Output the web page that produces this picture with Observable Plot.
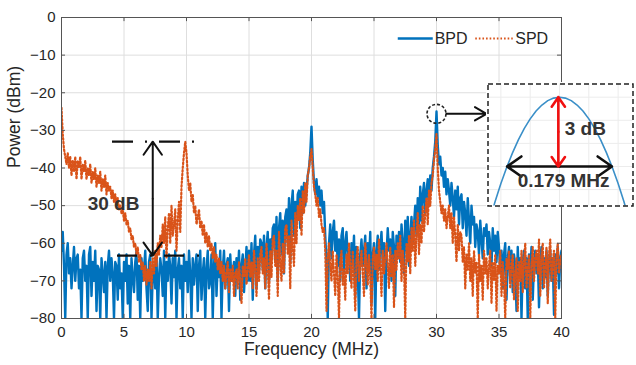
<!DOCTYPE html>
<html>
<head>
<meta charset="utf-8">
<script src="https://cdn.jsdelivr.net/npm/d3@7"></script>
<script src="https://cdn.jsdelivr.net/npm/@observablehq/plot@0.6"></script>
<style>
  body { margin: 0; background: #fff; }
  #wrap { position: relative; width: 636px; height: 365px; font-family: "Liberation Sans", Arial, sans-serif; }
  #inset { position: absolute; left: 486px; top: 82px; }
</style>
</head>
<body>
<div id="wrap"><div id="main"></div><div id="inset"></div></div>
<script>
// ---- data ----
const xTicks = [0, 5, 10, 15, 20, 25, 30, 35, 40];
const yTicks = [0, -10, -20, -30, -40, -50, -60, -70, -80];
const seriesNames = ["BPD", "SPD"];
const freqStepMHz = 0.1; // sample spacing of the spectra, 0 … 40 MHz

// BPD power (dBm), 10 samples per MHz
const bpd = [
 -62,-57,-66,-80,-63,-60,-68,-64,-72,-66,
 -61,-70,-64,-63,-72,-67,-80,-64,-62,-70,
 -66,-80,-63,-61,-74,-65,-70,-62,-78,-66,
 -67,-80,-64,-68,-73,-65,-80,-66,-62,-70,
 -64,-68,-80,-65,-66,-75,-63,-72,-68,-80,
 -65,-70,-63,-76,-66,-80,-64,-69,-73,-65,
 -62,-75,-66,-80,-64,-70,-67,-62,-72,-78,
 -65,-63,-80,-68,-66,-72,-63,-80,-69,-64,
 -67,-74,-62,-80,-65,-70,-63,-66,-76,-64,
 -69,-62,-80,-67,-64,-72,-66,-80,-63,-70,
 -65,-73,-62,-68,-80,-64,-71,-66,-63,-78,
 -66,-62,-75,-68,-64,-80,-67,-62,-72,-70,
 -63,-80,-66,-60,-74,-65,-69,-62,-80,-67,
 -62,-72,-66,-64,-78,-63,-70,-68,-65,-74,
 -64,-69,-62,-75,-66,-63,-73,-67,-61,-70,
 -62,-70,-60,-75,-63,-58,-72,-61,-68,-59,
 -60,-67,-58,-72,-61,-57,-70,-59,-64,-56,
 -55,-65,-53,-70,-56,-52,-63,-54,-68,-53,
 -51,-60,-48,-65,-50,-46,-58,-49,-55,-47,
 -46,-56,-45,-52,-44,-50,-46,-42,-40,-36,
 -29,-38,-44,-47,-43,-48,-45,-50,-46,-52,
 -49,-58,-65,-80,-60,-55,-64,-57,-54,-62,
 -57,-66,-59,-70,-58,-56,-68,-60,-57,-64,
 -62,-70,-60,-65,-58,-74,-61,-67,-80,-63,
 -59,-66,-62,-58,-72,-60,-65,-57,-76,-63,
 -60,-80,-62,-58,-67,-61,-57,-66,-60,-78,
 -63,-56,-62,-59,-70,-57,-61,-74,-58,-64,
 -57,-65,-55,-60,-68,-54,-62,-53,-66,-58,
 -53,-60,-55,-50,-58,-48,-56,-45,-54,-47,
 -44,-52,-46,-43,-50,-42,-46,-40,-37,-33,
 -25,-34,-39,-37,-42,-40,-45,-41,-47,-43,
 -46,-50,-44,-48,-53,-46,-51,-45,-55,-48,
 -47,-56,-49,-52,-58,-48,-54,-60,-50,-55,
 -53,-61,-55,-57,-63,-54,-59,-64,-56,-58,
 -55,-63,-57,-60,-66,-56,-62,-58,-65,-57,
 -61,-68,-62,-72,-63,-60,-75,-64,-61,-70,
 -62,-73,-63,-66,-78,-61,-69,-64,-80,-65,
 -62,-72,-64,-80,-63,-68,-61,-75,-65,-62,
 -68,-63,-77,-65,-61,-72,-64,-69,-62,-74,
 -65,-62,-70,-64,-79,-63,-68,-61,-72,-64,
 -62
];

// SPD power (dBm), 10 samples per MHz
const spd = [
 -24,-31,-35,-37,-39,-36,-40,-37,-42,-38,
 -41,-37,-43,-38,-40,-37,-43,-39,-41,-38,
 -43,-40,-42,-39,-44,-41,-43,-40,-45,-42,
 -44,-41,-46,-43,-45,-42,-47,-44,-46,-45,
 -48,-46,-49,-47,-50,-48,-51,-50,-52,-51,
 -54,-52,-55,-54,-57,-56,-59,-58,-61,-60,
 -63,-61,-65,-63,-67,-65,-70,-66,-71,-67,
 -70,-65,-72,-64,-68,-62,-66,-60,-63,-58,
 -61,-55,-60,-53,-64,-56,-52,-60,-50,-58,
 -55,-51,-62,-54,-49,-57,-45,-40,-36,-33,
 -36,-42,-46,-44,-49,-47,-52,-50,-55,-53,
 -51,-56,-54,-58,-55,-60,-57,-61,-58,-62,
 -60,-64,-61,-65,-63,-67,-64,-68,-65,-70,
 -66,-72,-68,-65,-73,-67,-70,-66,-74,-68,
 -67,-72,-65,-70,-76,-66,-69,-64,-71,-67,
 -63,-69,-65,-72,-62,-67,-74,-64,-70,-63,
 -61,-68,-64,-72,-60,-66,-75,-62,-69,-59,
 -58,-66,-62,-74,-57,-65,-70,-60,-68,-56,
 -55,-63,-58,-72,-54,-61,-66,-52,-60,-50,
 -54,-48,-58,-46,-52,-44,-49,-42,-40,-37,
 -35,-40,-45,-47,-50,-48,-53,-51,-55,-57,
 -56,-62,-78,-64,-60,-66,-70,-62,-68,-74,
 -63,-69,-80,-65,-62,-71,-67,-75,-63,-68,
 -60,-66,-72,-62,-69,-78,-64,-61,-70,-66,
 -62,-68,-74,-60,-65,-71,-63,-69,-80,-64,
 -61,-67,-63,-70,-59,-66,-74,-62,-68,-64,
 -60,-66,-72,-61,-69,-63,-77,-62,-67,-60,
 -64,-58,-70,-62,-66,-80,-60,-65,-58,-68,
 -56,-62,-54,-66,-58,-52,-63,-55,-60,-50,
 -57,-52,-48,-55,-46,-50,-44,-42,-38,-35,
 -31,-40,-46,-49,-52,-50,-54,-51,-56,-53,
 -50,-56,-52,-60,-53,-58,-65,-55,-62,-57,
 -58,-65,-61,-72,-63,-67,-60,-70,-64,-74,
 -62,-68,-65,-80,-63,-70,-66,-75,-62,-68,
 -64,-72,-66,-62,-76,-65,-70,-63,-78,-66,
 -68,-62,-74,-65,-70,-80,-64,-67,-62,-72,
 -66,-63,-75,-68,-64,-78,-65,-70,-62,-73,
 -65,-60,-72,-67,-63,-80,-66,-61,-70,-64,
 -62,-68,-59,-74,-64,-60,-72,-66,-61,-76,
 -63,-59,-70,-65,-62,-80,-64,-60,-68,-65,
 -63
];

// Inset: zoom of the 30 MHz BPD peak
const insetFreq  = [29.88, 29.89, 29.90, 29.91, 29.92, 29.93, 29.94, 29.95, 29.96, 29.97, 29.98, 29.99, 30.00,
                    30.01, 30.02, 30.03, 30.04, 30.05, 30.06, 30.07, 30.08, 30.09, 30.10, 30.11, 30.12];
const insetPower = [-30.39, -29.53, -28.74, -28.03, -27.40, -26.84, -26.35, -25.94, -25.60, -25.34, -25.15, -25.04, -25.00,
                    -25.04, -25.15, -25.34, -25.60, -25.94, -26.35, -26.84, -27.40, -28.03, -28.74, -29.53, -30.39];
const peakPower = -25;      // dBm
const halfPower = -28;      // dBm (3 dB down)
const fwhm = 0.179;         // MHz

// SNR annotation levels
const signalLevel = -33;
const noiseLevel = -63.3;

// ---- build tables ----
const bpdData = bpd.map((p, i) => ({f: +(i * freqStepMHz).toFixed(1), p}));
const spdData = spd.map((p, i) => ({f: +(i * freqStepMHz).toFixed(1), p}));

const blue = "#0072BD";
const orange = "#D95319";
const axisColor = "#262626";
const font = "'Liberation Sans', Arial, sans-serif";

// double-headed arrow = two arrows from the midpoint outwards
function doubleArrow(x1, y1, x2, y2, opts) {
  const xm = (x1 + x2) / 2, ym = (y1 + y2) / 2;
  return [
    Plot.arrow([0], {x1: xm, y1: ym, x2: x1, y2: y1, ...opts}),
    Plot.arrow([0], {x1: xm, y1: ym, x2: x2, y2: y2, ...opts})
  ];
}
const arrowStyle = {headLength: 12, headAngle: 70, insetStart: 0, insetEnd: 0};

const main = Plot.plot({
  width: 636,
  height: 365,
  marginLeft: 61,
  marginRight: 75,
  marginTop: 17,
  marginBottom: 47,
  style: {fontFamily: font, fontSize: "15px", color: axisColor, background: "white", overflow: "visible"},
  x: {domain: [0, 40], label: null},
  y: {domain: [-80, 0], label: null},
  marks: [
    Plot.gridX(xTicks, {stroke: "#dedede", strokeOpacity: 1}),
    Plot.gridY(yTicks, {stroke: "#dedede", strokeOpacity: 1}),
    Plot.line(bpdData, {x: "f", y: "p", stroke: blue, strokeWidth: 2.4, clip: true}),
    Plot.line(spdData, {x: "f", y: "p", stroke: orange, strokeWidth: 2.2, strokeDasharray: "1.6,2.2", clip: true}),
    Plot.frame({stroke: "#555", strokeWidth: 1}),
    // inward ticks (bottom/top/left/right)
    Plot.ruleX(xTicks, {y1: -80, y2: -78.9, stroke: "#555"}),
    Plot.ruleX(xTicks, {y1: 0, y2: -1.1, stroke: "#555"}),
    Plot.ruleY(yTicks, {x1: 0, x2: 0.32, stroke: "#555"}),
    Plot.ruleY(yTicks, {x1: 40, x2: 39.68, stroke: "#555"}),
    Plot.axisX({ticks: xTicks, tickSize: 0, tickPadding: 8, fontSize: 15}),
    Plot.axisY({ticks: yTicks, tickSize: 0, tickPadding: 6, fontSize: 15}),
    Plot.text(["Frequency (MHz)"], {frameAnchor: "bottom", dy: 36, fontSize: 17.5, fill: axisColor}),
    Plot.text(["Power (dBm)"], {frameAnchor: "left", dx: -47, rotate: -90, fontSize: 17.5, fill: axisColor}),
    // legend
    Plot.link([0], {x1: 26.9, x2: 29.7, y1: -5.6, y2: -5.6, stroke: blue, strokeWidth: 2.4}),
    Plot.text([seriesNames[0]], {x: 29.85, y: -5.6, textAnchor: "start", fontSize: 16, fill: axisColor}),
    Plot.link([0], {x1: 33.1, x2: 36.1, y1: -5.6, y2: -5.6, stroke: orange, strokeWidth: 2, strokeDasharray: "1.6,2"}),
    Plot.text([seriesNames[1]], {x: 36.3, y: -5.6, textAnchor: "start", fontSize: 16, fill: axisColor}),
    // 30 dB annotation
    Plot.ruleY([signalLevel], {x1: 4.08, x2: 10.8, stroke: "#111", strokeWidth: 2.2, strokeDasharray: "21,12,2,12"}),
    Plot.ruleY([noiseLevel], {x1: 4.48, x2: 11.1, stroke: "#111", strokeWidth: 2.2, strokeDasharray: "20,13,2,12"}),
    ...doubleArrow(7.3, signalLevel, 7.3, noiseLevel, {stroke: "#111", strokeWidth: 2, ...arrowStyle}),
    Plot.text(["30 dB"], {x: 4.16, y: -49.6, fontSize: 19, fontWeight: "bold", fill: "#333"}),
    // dashed circle and pointer to inset
    Plot.dot([0], {x: () => 30, y: () => -25.6, r: 9.5, stroke: "#222", strokeWidth: 1.6, strokeDasharray: "3,2", fill: "none"}),
    Plot.arrow([0], {x1: 30.8, x2: 34.0, y1: -25.6, y2: -25.6, stroke: "#111", strokeWidth: 2, headLength: 11, headAngle: 60, insetStart: 0, insetEnd: 0})
  ]
});
document.getElementById("main").appendChild(main);

const inset = Plot.plot({
  width: 148,
  height: 125,
  marginLeft: 1.5, marginRight: 1.5, marginTop: 1.5, marginBottom: 1.5,
  style: {fontFamily: font, background: "white", overflow: "visible"},
  x: {domain: [29.878, 30.1254], axis: null},
  y: {domain: [-29.71, -24.43], axis: null},
  marks: [
    Plot.gridX([29.9, 29.95, 30.0, 30.05, 30.1], {stroke: "#ececec", strokeOpacity: 1}),
    Plot.gridY([-25, -26, -27, -28, -29], {stroke: "#ececec", strokeOpacity: 1}),
    Plot.line(insetFreq.map((f, i) => ({f, p: insetPower[i]})), {x: "f", y: "p", stroke: "#3a8fc8", strokeWidth: 1.6, clip: true}),
    ...doubleArrow(30.0 - fwhm / 2, halfPower, 30.0 + fwhm / 2, halfPower, {stroke: "#111", strokeWidth: 2.6, ...arrowStyle}),
    ...doubleArrow(29.998, peakPower, 29.998, halfPower, {stroke: "#f01010", strokeWidth: 2.6, ...arrowStyle}),
    Plot.text(["3 dB"], {x: 30.009, y: -26.36, textAnchor: "start", fontSize: 19, fontWeight: "bold", fill: "#333"}),
    Plot.text([fwhm + " MHz"], {x: 30.007, y: -28.61, fontSize: 19, fontWeight: "bold", fill: "#333"}),
    Plot.frame({stroke: "#222", strokeWidth: 1.5, strokeDasharray: "5,3"})
  ]
});
document.getElementById("inset").appendChild(inset);
</script>
</body>
</html>
